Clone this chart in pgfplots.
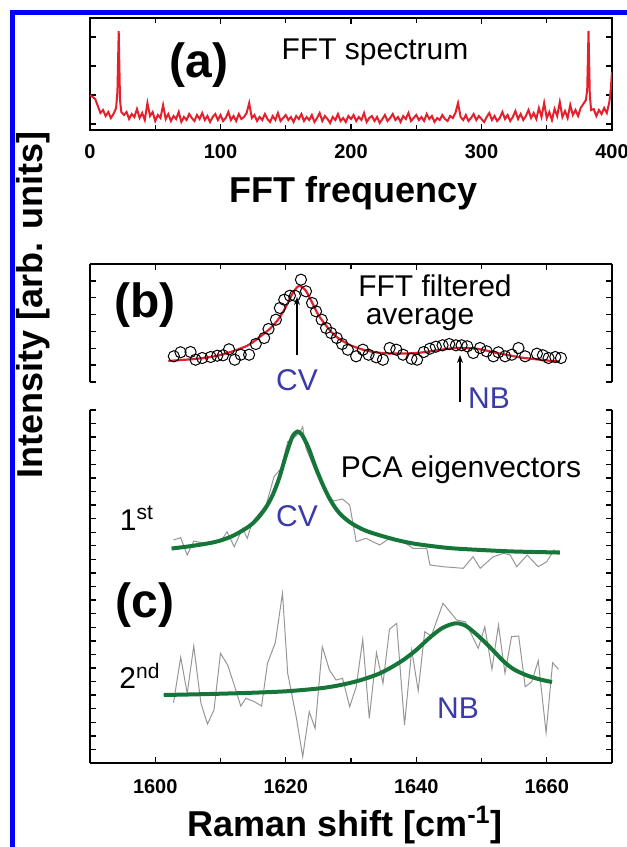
\documentclass[border=0pt]{standalone}
\usepackage{fontspec}
\setmainfont{Liberation Sans}
\usepackage{pgfplots}
\pgfplotsset{compat=1.18}
\usetikzlibrary{arrows.meta}
\definecolor{fftred}{RGB}{228,32,44}
\definecolor{fitgreen}{RGB}{22,118,58}
\definecolor{peakblue}{RGB}{58,58,168}
\definecolor{frameblue}{RGB}{0,0,255}
\definecolor{noisegray}{RGB}{150,150,150}

\newcommand\tickfont{\fontsize{10}{11}\selectfont\bfseries}
\newcommand\axlabfont{\fontsize{18}{21}\selectfont\bfseries}
\newcommand\panelfont{\fontsize{24}{28}\selectfont\bfseries}
\newcommand\notefont{\fontsize{15}{18}\selectfont}

\pgfplotsset{
  panel/.style={
    scale only axis, width=261pt, anchor=south west,
    tick align=inside,
    major tick length=3pt, minor tick length=2.5pt,
    every tick/.style={black, line width=0.7pt},
    axis line style={black, line width=0.9pt, -},
    x axis line style={-}, y axis line style={-},
    yticklabels={},
    tick label style={font=\tickfont},
    /pgf/number format/assume math mode=true,
    /pgf/number format/1000 sep={},
  },
}

\begin{document}
\begin{tikzpicture}

% (a) FFT spectrum
\begin{axis}[panel, at={(45pt,-65pt)}, height=56pt,
  xmin=0, xmax=400, ymin=0, ymax=112,
  xtick={0,100,...,400}, minor xtick={50,150,250,350},
  ytick={6,35,64,93},
  xticklabel style={yshift=-3.5pt}]
\addplot[fftred, line width=1pt] coordinates {
(0,35)(2,33)(4,31)(6,24)(8,17)(10,20)(12,14)(14,18)(16,12)(18,16)(20,22)(21,38)(22,99)(23,30)(24,18)(26,15)(28,18)(30,11)(32,16)(34,13)(36,21)(38,12)(40,17)(42,10)(44,27)(46,14)(48,18)(50,9)(52,15)(54,12)(56,25)(58,11)(60,16)(62,9)(64,14)(66,11)(68,18)(70,8)(72,13)(74,10)(76,16)(78,12)(80,9)(82,15)(84,11)(86,17)(88,10)(90,14)(92,8)(94,13)(96,16)(98,10)(100,15)(102,9)(104,12)(106,18)(108,10)(110,14)(112,9)(114,16)(116,11)(118,13)(120,17)(122,27)(124,12)(126,15)(128,9)(130,13)(132,10)(134,16)(136,11)(138,8)(140,14)(142,10)(144,17)(146,9)(148,12)(150,15)(152,10)(154,13)(156,8)(158,14)(160,11)(162,16)(164,9)(166,13)(168,10)(170,15)(172,8)(174,12)(176,17)(178,9)(180,14)(182,11)(184,7)(186,13)(188,10)(190,16)(192,9)(194,12)(196,8)(198,14)(200,11)(202,15)(204,9)(206,13)(208,10)(210,17)(212,8)(214,12)(216,14)(218,9)(220,13)(222,7)(224,11)(226,15)(228,9)(230,12)(232,16)(234,10)(236,13)(238,8)(240,14)(242,11)(244,17)(246,9)(248,12)(250,15)(252,10)(254,13)(256,9)(258,16)(260,11)(262,14)(264,8)(266,12)(268,10)(270,15)(272,11)(274,9)(276,14)(278,12)(280,17)(282,27)(284,13)(286,10)(288,15)(290,9)(292,12)(294,16)(296,10)(298,14)(300,11)(302,8)(304,13)(306,17)(308,10)(310,14)(312,9)(314,12)(316,18)(318,11)(320,15)(322,9)(324,13)(326,19)(328,11)(330,16)(332,10)(334,14)(336,20)(338,12)(340,17)(342,11)(344,22)(346,13)(348,27)(350,12)(352,18)(354,10)(356,21)(358,14)(360,28)(362,13)(364,19)(366,12)(368,25)(370,15)(372,20)(374,14)(376,22)(378,26)(380,30)(381,40)(382,99)(383,35)(384,20)(386,21)(388,14)(390,20)(392,16)(394,22)(396,17)(398,28)(399,40)(400,58)
};
\end{axis}

% (b) FFT filtered average
\begin{axis}[panel, at={(45pt,-191pt)}, height=59pt,
  xmin=1590, xmax=1670, ymin=0, ymax=118,
  axis x line*=top, axis y line*=box,
  xtick={1600,1620,1640,1660}, minor xtick={1610,1630,1650},
  xticklabels={}, ytick={0,16.857,...,118.1}, ytick pos=both]
\addplot[only marks, mark=o, mark size=2.8pt, mark options={black, line width=0.5pt}] coordinates {
(1602.85,25.7)(1603.87,29.7)(1605.41,30)(1606.18,22.3)(1607.2,24)(1608.49,25)(1609.51,26.3)(1610.38,26.7)(1611.31,32.7)(1612.18,22.3)(1613.1,27.3)(1614.38,27.3)(1615.41,38)(1616.69,44)(1617.36,53)(1618.49,62.3)(1619.1,74)(1619.77,82.3)(1620.64,86.3)(1621.41,86.3)(1622.33,102.3)(1623.1,90.7)(1624.03,79)(1624.64,70.7)(1625.51,62.3)(1626.18,54)(1626.95,49)(1627.82,44)(1628.64,38)(1629.51,32.3)(1630.79,25.7)(1631.82,32.3)(1632.69,27.3)(1633.87,24.7)(1634.9,22.3)(1635.92,34)(1636.95,32.3)(1637.97,27.3)(1639.26,23.3)(1640.13,22.3)(1641.15,30)(1642.08,33.3)(1643.0,35.3)(1644.03,36.7)(1645.05,38)(1646.08,36.7)(1646.95,36.7)(1647.82,35.7)(1648.74,29)(1649.77,34)(1650.79,30.7)(1651.82,25.7)(1652.59,29.7)(1653.62,25.7)(1654.64,27.3)(1655.67,34)(1656.69,25.7)(1658.49,28.3)(1659.41,26.7)(1660.28,24)(1661.31,25)(1662.18,24)
};
\addplot[fftred, line width=1.1pt, smooth] coordinates {
(1602,21)(1604,22)(1606,23)(1608,24.5)(1610,27)(1612,31)(1614,36)(1615,40)(1616,45)(1617,50)(1618,56)(1619,64)(1620,75)(1621,88)(1622,96)(1623,92)(1624,80)(1625,67)(1626,58)(1627,50)(1628,44)(1629,40)(1630,36.5)(1632,32)(1634,29.5)(1636,28.5)(1638,28.5)(1640,29)(1642,30.5)(1644,32.5)(1646,34)(1648,34)(1650,32.5)(1652,29.5)(1654,27)(1656,24.5)(1658,23)(1660,21.5)(1662,20.5)
};
\end{axis}

% (c) PCA eigenvectors
\begin{axis}[panel, at={(45pt,-381.5pt)}, height=176.5pt,
  xmin=1590, xmax=1670, ymin=0, ymax=353,
  axis x line*=bottom, axis y line*=box,
  xtick={1600,1620,1640,1660}, minor xtick={1610,1630,1650},
  ytick={0,13.5769,...,353.1}, ytick pos=both,
  xticklabel style={yshift=-4.5pt}]
% 1st eigenvector
\addplot[noisegray, line width=0.5pt] coordinates {
(1602.8,223)(1603.9,225.3)(1604.9,208)(1605.9,222)(1607.5,219.7)(1610,221.3)(1611,231.3)(1612.1,216.3)(1613.4,234.7)(1614.1,224.7)(1614.9,241.3)(1617,258)(1618.2,286.3)(1619.3,294.7)(1620.3,321.3)(1621.1,324.7)(1622.1,329.7)(1622.6,336.3)(1623.1,314.7)(1624.6,291.3)(1626,272)(1627.3,262)(1628.7,264)(1629.8,258)(1630.8,221.3)(1632.3,224.7)(1634.4,218)(1635.9,224.7)(1638,221.3)(1639.5,214.7)(1641.6,214.7)(1642.1,198)(1644.1,196.3)(1647.2,194.7)(1648.7,206.3)(1649.8,194.7)(1651.8,206.3)(1653.4,209.7)(1654.4,208)(1655.4,196.3)(1657,208)(1658.7,196.3)(1660,201.3)(1661.1,213)(1661.8,208)
};
\addplot[fitgreen, line width=2pt, smooth] coordinates {
(1602.5,214.5)(1605,216.5)(1608,219.5)(1610,222.5)(1612,227.5)(1614,235)(1615,240)(1616,247)(1617,256)(1618,268)(1619,285)(1620,307)(1621,326)(1621.8,331.5)(1622.5,328)(1623.5,315)(1624.5,297)(1625.5,281)(1626.5,267)(1627.5,256)(1628.5,248)(1630,240)(1632,233)(1634,228.5)(1637,223)(1640,219)(1645,215)(1650,213)(1655,211.5)(1662,210.5)
};
% 2nd eigenvector
\addplot[noisegray, line width=0.5pt] coordinates {
(1602.8,60.3)(1603.9,105.7)(1604.9,69.7)(1605.9,117)(1607,59.7)(1608,39)(1609,53)(1610,109.7)(1611.1,98)(1612.1,78)(1613.1,57)(1613.9,64.7)(1615.2,61.3)(1616.3,57)(1617.2,99.7)(1618.4,120.3)(1619.5,169.7)(1620.3,89.7)(1621.6,46.3)(1622.6,6.3)(1623.6,51.3)(1624.5,34.7)(1625.6,116.3)(1626.7,93)(1627.7,83)(1628.7,84.7)(1629.8,56.3)(1630.8,76.3)(1631.8,123.7)(1632.8,44.7)(1633.9,110.3)(1634.9,79.7)(1635.9,133.7)(1637,139.7)(1638.2,38)(1639.3,113)(1640.3,72.3)(1641.3,131.3)(1642.3,127)(1644.1,159.7)(1646.2,143)(1647.5,141.3)(1649.5,114.7)(1650.5,136.3)(1651.6,93.7)(1652.6,138)(1653.6,89.7)(1654.6,126.3)(1655.7,127)(1656.7,76.3)(1657.7,81.3)(1658.7,102.3)(1659.9,30.3)(1660.9,100.3)(1661.8,93.7)
};
\addplot[fitgreen, line width=2pt, smooth] coordinates {
(1601.3,68)(1605,68.5)(1610,69.3)(1615,70.3)(1620,71.7)(1625,74.5)(1628,77.5)(1631,82)(1634,88.5)(1636,95)(1638,103)(1640,113)(1642,125)(1644,135)(1646,139.7)(1647.5,137.5)(1649,130)(1650.5,121)(1652,111)(1653.5,101)(1655,93.5)(1657,87.5)(1659,83.5)(1660.8,81)
};
\end{axis}

% annotations, in pixel units of the reference (y downwards)
\begin{scope}[x=0.5pt, y=-0.5pt]
\draw[frameblue, line width=2.5pt] (12.5,870) -- (12.5,12.5) -- (650,12.5);
\node at (199,65) {\panelfont (a)};
\node at (375,52) {\notefont FFT spectrum};
\node at (354,193) {\axlabfont FFT frequency};
\node at (145,305) {\panelfont (b)};
\node at (435,286) {\notefont FFT filtered};
\node at (420,320) {\notefont average};
\draw[-{Stealth[length=4pt,width=3pt]}, line width=0.6pt] (297,355) -- (297,297);
\node[text=peakblue] at (297,380) {\notefont CV};
\draw[-{Stealth[length=4pt,width=3pt]}, line width=0.6pt] (460,402) -- (460,355);
\node[text=peakblue] at (489,398) {\notefont NB};
\node at (461,470) {\notefont PCA eigenvectors};
\node at (137,518) {\notefont 1\textsuperscript{st}};
\node[text=peakblue] at (297,516) {\notefont CV};
\node at (145,605) {\panelfont (c)};
\node at (140,676) {\notefont 2\textsuperscript{nd}};
\node[text=peakblue] at (458,708) {\notefont NB};
\node[rotate=90] at (33,305) {\axlabfont Intensity [arb. units]};
\node at (345,825) {\axlabfont Raman shift [cm\textsuperscript{-1}]};
\pgfresetboundingbox
\useasboundingbox (0,0) rectangle (627,847);
\end{scope}
\end{tikzpicture}
\end{document}
